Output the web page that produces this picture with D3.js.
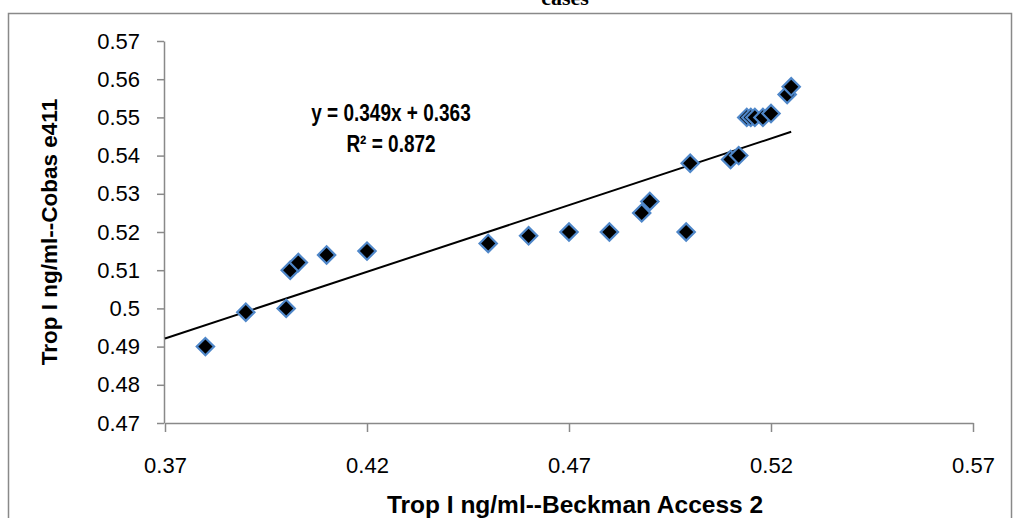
<!DOCTYPE html>
<html>
<head>
<meta charset="utf-8">
<script src="https://cdn.jsdelivr.net/npm/d3@7"></script>
<style>
  body { margin: 0; background: #fff; }
  svg { display: block; }
</style>
</head>
<body>
<div id="chart"></div>
<script>
// Beckman Access 2 (x) vs Cobas e411 (y), Trop I ng/ml
let beckman = [0.38, 0.39, 0.40, 0.401, 0.403, 0.41, 0.42, 0.45, 0.46, 0.47, 0.48, 0.488,
               0.49, 0.499, 0.50, 0.51, 0.512, 0.514, 0.515, 0.516, 0.518, 0.52, 0.524, 0.525];
let cobas = [0.49, 0.499, 0.50, 0.51, 0.512, 0.514, 0.515, 0.517, 0.519, 0.52, 0.52, 0.525,
             0.528, 0.52, 0.538, 0.539, 0.54, 0.55, 0.55, 0.55, 0.55, 0.551, 0.556, 0.558];

let slope = 0.349;
let intercept = 0.363;

let xTicks = [0.37, 0.42, 0.47, 0.52, 0.57];
let yTicks = [0.47, 0.48, 0.49, 0.50, 0.51, 0.52, 0.53, 0.54, 0.55, 0.56, 0.57];
let yTickLabels = ['0.47', '0.48', '0.49', '0.5', '0.51', '0.52', '0.53', '0.54', '0.55', '0.56', '0.57'];

let width = 1013;
let height = 518;
let plot = { left: 165, right: 973, top: 41, bottom: 423 };
let axisColor = '#898989';
let font = '"Liberation Sans", Arial, sans-serif';

let svg = d3.select('#chart')
    .append('svg')
    .attr('width', width)
    .attr('height', height);

// outer chart frame (runs past the bottom of the picture)
svg.append('rect')
    .attr('x', 8.5)
    .attr('y', 13.5)
    .attr('width', 1003)
    .attr('height', 600)
    .attr('fill', 'none')
    .attr('stroke', axisColor)
    .attr('stroke-width', 1.5);

// title, clipped at the very top as in the source
svg.append('text')
    .attr('x', 565)
    .attr('y', 5)
    .attr('text-anchor', 'middle')
    .attr('font-family', '"Liberation Serif", serif')
    .attr('font-weight', 'bold')
    .attr('font-size', 22)
    .text('cases');

let x = d3.scaleLinear([0.37, 0.57], [plot.left, plot.right]);
let y = d3.scaleLinear([0.47, 0.57], [plot.bottom, plot.top]);

let xAxis = svg.append('g')
    .attr('transform', `translate(0,${plot.bottom})`)
    .call(d3.axisBottom(x)
        .tickValues(xTicks)
        .tickFormat(d3.format('.2f'))
        .tickSizeInner(9)
        .tickSizeOuter(0)
        .tickPadding(25));

let yAxis = svg.append('g')
    .attr('transform', `translate(${plot.left - 1},0)`)
    .call(d3.axisLeft(y)
        .tickValues(yTicks)
        .tickFormat((d, i) => yTickLabels[i])
        .tickSizeInner(7)
        .tickSizeOuter(0)
        .tickPadding(17));

[xAxis, yAxis].forEach(g => {
    g.select('.domain').attr('stroke', axisColor).attr('stroke-width', 1.5);
    g.selectAll('.tick line').attr('stroke', axisColor).attr('stroke-width', 1.5);
    g.selectAll('.tick text')
        .attr('fill', '#000')
        .attr('font-family', font)
        .attr('font-size', 22);
});

// linear trendline over the data range
let xExtent = [0.37, d3.max(beckman)];
svg.append('line')
    .attr('x1', x(xExtent[0]))
    .attr('y1', y(slope * xExtent[0] + intercept))
    .attr('x2', x(xExtent[1]))
    .attr('y2', y(slope * xExtent[1] + intercept))
    .attr('stroke', '#000')
    .attr('stroke-width', 2);

let points = beckman.map((d, i) => ({ b: d, c: cobas[i] }));

svg.append('g')
    .selectAll('path')
    .data(points)
    .join('path')
    .attr('d', d3.symbol(d3.symbolSquare, 150))
    .attr('transform', d => `translate(${x(d.b)},${y(d.c)}) rotate(45)`)
    .attr('fill', '#000')
    .attr('stroke', '#4f87c9')
    .attr('stroke-width', 2.2);

// equation labels (the source font is tall and narrow, so stretch a little)
let eq = svg.append('g')
    .attr('font-family', font)
    .attr('font-weight', 'bold')
    .attr('font-size', 19)
    .attr('text-anchor', 'middle');

eq.append('text')
    .attr('transform', 'translate(391,121) scale(1,1.25)')
    .text(`y = ${slope}x + ${intercept}`);

eq.append('text')
    .attr('transform', 'translate(391,152) scale(1,1.25)')
    .text('R² = 0.872');

// axis titles
svg.append('text')
    .attr('x', 575)
    .attr('y', 513)
    .attr('text-anchor', 'middle')
    .attr('font-family', font)
    .attr('font-weight', 'bold')
    .attr('font-size', 24.5)
    .text('Trop I ng/ml--Beckman Access 2');

svg.append('text')
    .attr('transform', 'translate(57,232) rotate(-90)')
    .attr('text-anchor', 'middle')
    .attr('font-family', font)
    .attr('font-weight', 'bold')
    .attr('font-size', 22.5)
    .text('Trop I ng/ml--Cobas e411');
</script>
</body>
</html>
